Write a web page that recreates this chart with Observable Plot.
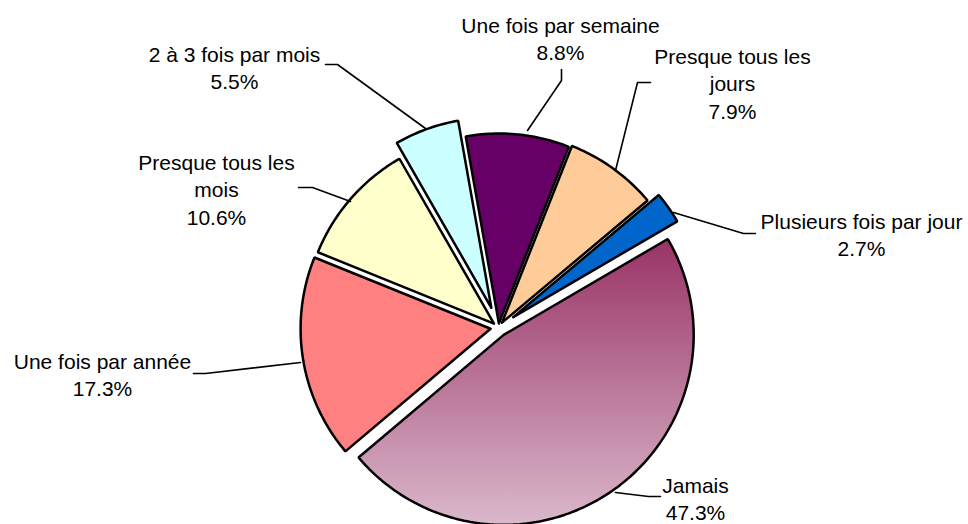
<!DOCTYPE html>
<html>
<head>
<meta charset="utf-8">
<script src="https://cdn.jsdelivr.net/npm/d3@7"></script>
<script src="https://cdn.jsdelivr.net/npm/@observablehq/plot@0.6"></script>
<style>
  html, body { margin: 0; padding: 0; background: #fff; }
  #chart svg { display: block; }
</style>
</head>
<body>
<div id="chart"></div>
<script>
// ---- Data (clockwise order, starting with "Plusieurs fois par jour") ----
const categories = ["Plusieurs fois par jour", "Jamais", "Une fois par année", "Presque tous les mois", "2 à 3 fois par mois", "Une fois par semaine", "Presque tous les jours"];
const percents = [2.7, 47.3, 17.3, 10.6, 5.5, 8.8, 7.9];
const labelNames = ["Plusieurs fois par jour", "Jamais", "Une fois par année", "Presque tous les\nmois", "2 à 3 fois par mois", "Une fois par semaine", "Presque tous les\njours"];
const sliceColors = ["#0066cc", "url(#jamaisGrad)", "#ff8080", "#ffffcc", "#ccffff", "#660066", "#ffcc99"];

// ---- Layout (not data) ----
const W = 968, H = 524;
const center = [498, 327];
const radius = 190;
const startDeg = 50;
const explode = [18, 9, 8, 6, 21, 4, 6];
const labelPos = [[861, 233], [695, 497], [102, 373], [216, 188], [234, 66], [560, 37], [732, 82]];
const leaderPts = [
  [[673, 212], [743, 233], [755, 233]],
  [[615, 492], [648, 496], [660, 496]],
  [[300, 362], [205, 373], [193, 373]],
  [[350, 201], [312, 187], [298, 187]],
  [[425, 128], [337, 64], [325, 64]],
  [[527, 130], [561, 80], [561, 69]],
  [[615, 170], [637, 82], [650, 82]]
];

const pie = d3.pie().sort(null)
  .startAngle(startDeg * Math.PI / 180)
  .endAngle(startDeg * Math.PI / 180 + 2 * Math.PI)
  .value(d => d);
const arcs = pie(percents);

function slicePolygon(a, i) {
  const mid = (a.startAngle + a.endAngle) / 2;
  const cx = center[0] + explode[i] * Math.sin(mid);
  const cy = center[1] - explode[i] * Math.cos(mid);
  const pts = [{x: cx, y: cy}];
  const n = Math.max(4, Math.ceil((a.endAngle - a.startAngle) / (Math.PI / 180)));
  for (let k = 0; k <= n; k++) {
    const t = a.startAngle + (a.endAngle - a.startAngle) * k / n;
    pts.push({x: cx + radius * Math.sin(t), y: cy - radius * Math.cos(t)});
  }
  pts.push({x: cx, y: cy});
  return pts;
}

const sliceMarks = arcs.map((a, i) =>
  Plot.line(slicePolygon(a, i), {
    x: "x", y: "y",
    fill: sliceColors[i],
    stroke: "#000",
    strokeWidth: 2.5,
    strokeLinejoin: "miter",
    curve: "linear"
  })
);

const leaderMarks = leaderPts.map(pts =>
  Plot.line(pts.map(p => ({x: p[0], y: p[1]})), {x: "x", y: "y", stroke: "#000", strokeWidth: 1.6, curve: "linear"})
);

const labelData = categories.map((c, i) => ({
  text: labelNames[i] + "\n" + percents[i].toFixed(1) + "%",
  x: labelPos[i][0],
  y: labelPos[i][1]
}));

const chart = Plot.plot({
  width: W,
  height: H,
  margin: 0,
  x: {domain: [0, W], range: [0, W], axis: null},
  y: {domain: [0, H], range: [0, H], axis: null},
  style: {fontFamily: "'Liberation Sans', Arial, sans-serif", background: "#fff"},
  marks: [
    ...sliceMarks,
    ...leaderMarks,
    Plot.text(labelData, {
      x: "x", y: "y", text: "text",
      fontSize: 21,
      lineHeight: 1.31,
      lineAnchor: "middle",
      textAnchor: "middle",
      fill: "#000"
    })
  ]
});

const defs = d3.select(chart).insert("defs", ":first-child");
const grad = defs.append("linearGradient")
  .attr("id", "jamaisGrad")
  .attr("x1", 0).attr("y1", 0).attr("x2", 0).attr("y2", 1);
grad.append("stop").attr("offset", "0%").attr("stop-color", "#993366");
grad.append("stop").attr("offset", "100%").attr("stop-color", "#dab8cb");

document.getElementById("chart").appendChild(chart);
</script>
</body>
</html>
